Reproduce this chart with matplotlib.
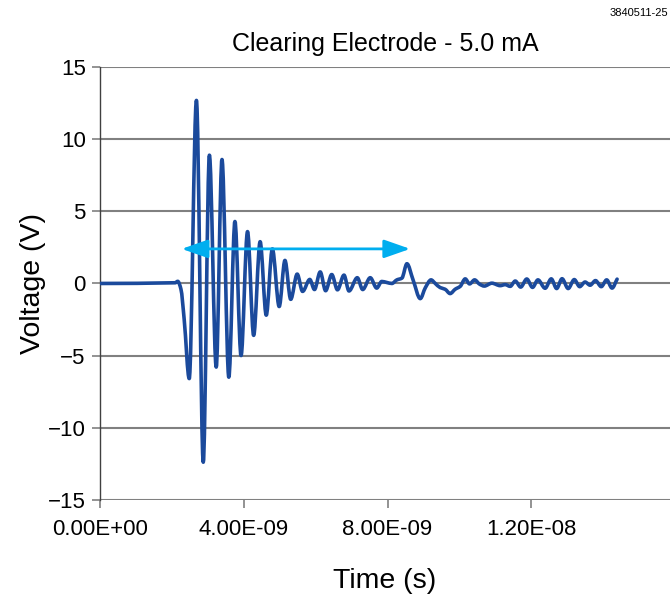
import matplotlib
matplotlib.use("Agg")
import matplotlib.pyplot as plt
from matplotlib.ticker import FuncFormatter
from matplotlib.path import Path
from matplotlib.patches import PathPatch
import numpy as np

plt.rcParams['font.family'] = ['Liberation Sans', 'DejaVu Sans']

# Waveform (time in ns, voltage in V)
time_ns = [0.00, 2.10, 2.17, 2.26, 2.35, 2.49, 2.69, 2.88, 3.05, 3.24, 3.40,
           3.59, 3.76, 3.93, 4.11, 4.28, 4.46, 4.63, 4.80, 4.99, 5.15, 5.31,
           5.49, 5.64, 5.84, 5.97, 6.13, 6.28, 6.45, 6.61, 6.79, 6.93, 7.16,
           7.31, 7.52, 7.70, 7.84, 7.98, 8.12, 8.26, 8.40, 8.54, 8.71, 8.91,
           9.05, 9.21, 9.32, 9.46, 9.60, 9.74, 9.88, 10.02, 10.16, 10.28,
           10.42, 10.56, 10.69, 10.90, 11.13, 11.27, 11.41, 11.55, 11.70,
           11.87, 12.03, 12.18, 12.38, 12.55, 12.70, 12.85, 13.02, 13.19,
           13.34, 13.49, 13.63, 13.78, 13.94, 14.09, 14.24, 14.38]
voltage = [0.00, 0.05, 0.15, -0.40, -2.50, -6.60, 12.70, -12.40, 8.90, -5.80,
           8.60, -6.50, 4.30, -5.00, 3.60, -3.60, 2.90, -2.20, 2.40, -1.60,
           1.60, -1.10, 0.65, -0.55, 0.28, -0.42, 0.80, -0.50, 0.62, -0.44,
           0.58, -0.52, 0.40, -0.42, 0.40, -0.32, 0.14, 0.07, 0.00, 0.25,
           0.37, 1.37, 0.25, -1.05, -0.30, 0.25, 0.02, -0.28, -0.40, -0.70,
           -0.40, -0.20, 0.32, -0.03, 0.25, -0.05, -0.18, 0.02, -0.15, -0.08,
           -0.20, 0.17, -0.25, 0.31, -0.27, 0.25, -0.33, 0.32, -0.35, 0.33,
           -0.35, 0.27, -0.22, 0.10, -0.12, 0.20, -0.22, 0.25, -0.32, 0.30]

# Cyan double arrow (ns, V)
arrow_start_ns = 2.28
arrow_end_ns = 8.63
arrow_level_v = 2.4

y_ticks = [-15, -10, -5, 0, 5, 10, 15]
x_ticks = [0.0, 4e-9, 8e-9, 1.2e-8]

t = np.array(time_ns) * 1e-9
v = np.array(voltage)


def smooth_path(x, y):
    """Smoothed line (like a spreadsheet 'smoothed line') drawn as cubic
    Bezier segments through the data points, with monotone tangents."""
    n = len(x)
    h = np.diff(x)
    d = np.diff(y) / h
    m = np.zeros(n)
    for i in range(1, n - 1):
        if d[i - 1] * d[i] <= 0:
            m[i] = 0.0
        else:
            w1 = 2 * h[i] + h[i - 1]
            w2 = h[i] + 2 * h[i - 1]
            m[i] = (w1 + w2) / (w1 / d[i - 1] + w2 / d[i])
    m[0] = d[0]
    m[-1] = d[-1]
    verts = [(x[0], y[0])]
    codes = [Path.MOVETO]
    for i in range(n - 1):
        c1 = (x[i] + h[i] / 3, y[i] + m[i] * h[i] / 3)
        c2 = (x[i + 1] - h[i] / 3, y[i + 1] - m[i + 1] * h[i] / 3)
        verts += [c1, c2, (x[i + 1], y[i + 1])]
        codes += [Path.CURVE4, Path.CURVE4, Path.CURVE4]
    return Path(verts, codes)


fig = plt.figure(figsize=(6.70, 5.99), dpi=100)
ax = fig.add_axes([0.1487, 0.1658, 0.8513, 0.7219])

ax.set_xlim(0, 15.85e-9)
ax.set_ylim(-15, 15)

for yv in y_ticks:
    ax.axhline(yv, color='#808080', lw=1.5, zorder=1)

# invisible line keeps data registered with the axes
ax.plot(t, v, lw=0, alpha=0)
ax.add_patch(PathPatch(smooth_path(t, v), facecolor='none',
                       edgecolor='#1B4A9C', lw=2.6, joinstyle='round',
                       capstyle='round', zorder=3))

ax.annotate('', xy=(arrow_start_ns * 1e-9, arrow_level_v),
            xytext=(arrow_end_ns * 1e-9, arrow_level_v),
            arrowprops=dict(arrowstyle='<|-|>,head_length=0.8,head_width=0.28',
                            mutation_scale=20, color='#00AEEF', lw=2.0,
                            shrinkA=0, shrinkB=0),
            zorder=4)

for s in ['top', 'right', 'bottom']:
    ax.spines[s].set_visible(False)
ax.spines['left'].set_color('#404040')
ax.spines['left'].set_linewidth(1.0)

ax.set_yticks(y_ticks)
ax.set_yticklabels([f"{y:d}".replace('-', '\u2212') for y in y_ticks])
ax.set_xticks(x_ticks)
ax.xaxis.set_major_formatter(FuncFormatter(lambda val, pos: f"{val:.2E}"))
ax.tick_params(axis='both', labelsize=16, color='#808080', length=6, width=1.2)
ax.tick_params(axis='x', pad=8)
ax.tick_params(axis='y', pad=4)

ax.set_xlabel('Time (s)', fontsize=20.5, labelpad=20)
ax.set_ylabel('Voltage (V)', fontsize=20.5, labelpad=1)
ax.set_title('Clearing Electrode - 5.0 mA', fontsize=18, pad=12)

fig.text(0.997, 0.978, '3840511-25', fontsize=8, ha='right', va='center')

fig.savefig('out.png', dpi=100)
